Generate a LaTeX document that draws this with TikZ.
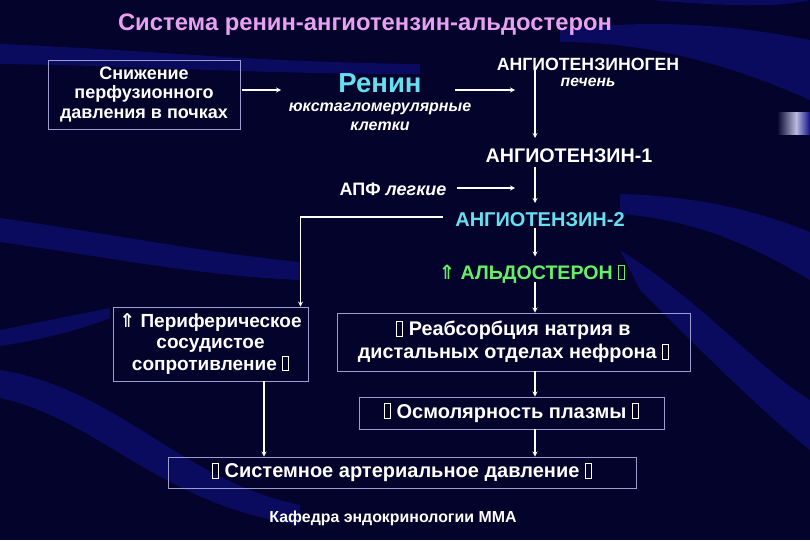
\documentclass[tikz,border=0pt]{standalone}
\usepackage{fontspec}
\usetikzlibrary{calc}
\setmainfont{Liberation Sans}
\newfontfamily\symb{DejaVu Sans}
\definecolor{bgnavy}{HTML}{03032C}
\definecolor{bandblue}{HTML}{10108A}
\definecolor{framecol}{HTML}{9C9CD0}
\definecolor{titlepink}{HTML}{E8A0F0}
\definecolor{cyantext}{HTML}{66E0F0}
\definecolor{greentext}{HTML}{66F066}
\newcommand{\uparr}{{\symb\bfseries ⇑}}
\newcommand{\nogl}{{\fboxsep=0pt\fboxrule=0.05em\fbox{\rule{0pt}{0.7em}\kern0.26em}}}
\newcommand{\fs}[2]{\fontsize{#1}{#2}\selectfont}
\begin{document}
\begin{tikzpicture}[x=1pt,y=-1pt,>=stealth,
  txt/.style={text=white,font=\bfseries,inner sep=0pt},
  frame/.style={draw=framecol,line width=0.9pt,align=center,text=white,font=\bfseries,inner sep=2pt},
  link/.style={->,white,line width=1.2pt},
  band/.style={fill=bandblue,opacity=0.55}]
\useasboundingbox (0,0) rectangle (810,540);
\fill[bgnavy] (0,0) rectangle (810,540);
% waves in the background
\fill[band] (0,44) .. controls (150,50) and (250,62) .. (420,64)
  -- (420,74) .. controls (250,74) and (150,66) .. (0,64) -- cycle;
\fill[band] (560,30) .. controls (640,20) and (720,22) .. (810,40)
  -- (810,100) .. controls (720,60) and (640,42) .. (560,42) -- cycle;
\fill[band] (650,0) .. controls (720,6) and (780,8) .. (810,0) -- cycle;
\fill[band] (0,218) .. controls (100,232) and (200,252) .. (300,262)
  -- (300,280) .. controls (200,276) and (100,256) .. (0,242) -- cycle;
\fill[band] (620,194) .. controls (700,196) and (760,212) .. (810,232)
  -- (810,280) .. controls (760,250) and (700,220) .. (620,214) -- cycle;
\fill[band] (620,250) .. controls (700,300) and (760,370) .. (810,400)
  -- (810,450) .. controls (760,410) and (700,350) .. (640,290) -- cycle;
\fill[band] (0,330) .. controls (40,322) and (80,314) .. (110,308)
  -- (110,318) .. controls (80,330) and (40,340) .. (0,346) -- cycle;
\fill[band] (0,370) .. controls (120,390) and (180,480) .. (300,505)
  -- (300,525) .. controls (160,505) and (100,420) .. (0,398) -- cycle;
% tab at the right
\shade[left color=bgnavy,right color=framecol!70!white] (777,113) rectangle (796,135);
\shade[left color=framecol!70!white,right color=bandblue] (796,113) rectangle (810,135);

% title
\node[txt,text=titlepink,font=\bfseries\fs{23.8}{28}] (title) at (365,25) {Система ренин-ангиотензин-альдостерон};

% top row
\node[frame,minimum width=192pt,minimum height=69pt,font=\bfseries\fs{18}{19.5}] (perf) at (144,94.5)
  {Снижение\\перфузионного\\давления в почках};
\node[txt,text=cyantext,font=\bfseries\fs{27.5}{30}] (renin) at (380,83) {Ренин};
\node[txt,align=center,font=\bfseries\itshape\fs{16}{19}] (jga) at (380,117) {юкстагломерулярные\\клетки};
\node[txt,font=\bfseries\fs{17.7}{20}] (agt) at (588,64) {АНГИОТЕНЗИНОГЕН};
\node[txt,font=\bfseries\itshape\fs{15.7}{18}] (liver) at (588,82) {печень};
\node[txt,font=\bfseries\fs{19.7}{22}] (an1) at (569,156) {АНГИОТЕНЗИН-1};
\node[txt,font=\bfseries\fs{18}{20}] (apf) at (393,189) {АПФ \textit{легкие}};
\node[txt,text=cyantext,font=\bfseries\fs{20}{22}] (an2) at (540,220) {АНГИОТЕНЗИН-2};
\node[txt,text=greentext,font=\bfseries\fs{19.6}{22}] (ald) at (532,274) {\uparr\ АЛЬДОСТЕРОН \nogl};

% boxes below
\node[frame,minimum width=195pt,minimum height=74pt,font=\bfseries\fs{19}{21.5}] (per) at (210.5,344)
  {\uparr\ Периферическое\\сосудистое\\сопротивление \nogl};
\node[frame,minimum width=353pt,minimum height=58pt,font=\bfseries\fs{19.8}{23}] (reab) at (513.5,342)
  {\nogl\ Реабсорбция натрия в\\дистальных отделах нефрона \nogl};
\node[frame,minimum width=305pt,minimum height=32pt,font=\bfseries\fs{20}{22}] (osm) at (511.5,413)
  {\nogl\ Осмолярность плазмы \nogl};
\node[frame,minimum width=468pt,minimum height=31pt,font=\bfseries\fs{20}{22}] (sys) at (402,472.5)
  {\nogl\ Системное артериальное давление \nogl};
\node[txt,font=\bfseries\fs{15.9}{18}] (dept) at (393,518) {Кафедра эндокринологии ММА};

% free ends
\coordinate (axis) at (535,0);
\coordinate (perfend) at (281,90);
\coordinate (reninend) at (515,90);
\coordinate (apfend) at (515,188);
\coordinate (perjoin) at (300.5,0);
\coordinate (perend) at (264,0);

% connectors
\draw[link] ($(perf.east |- perfend)+(2,0)$) -- (perfend);
\draw[link] ($(renin.east |- reninend)+(33,0)$) -- (reninend);
\draw[link] ($(agt.center -| axis)+(0,6)$) -- ($(an1.center -| axis)+(0,-18)$);
\draw[link] ($(an1.center -| axis)+(0,11)$) -- ($(an2.center -| axis)+(0,-17)$);
\draw[link] ($(apf.east)+(10,-1)$) -- (apfend);
\draw[link] ($(an2.center -| axis)+(0,8)$) -- ($(ald.center -| axis)+(0,-17.5)$);
\draw[link] ($(an2.west)+(-12,-3)$) -| (per.north -| perjoin);
\draw[link] ($(ald.center -| axis)+(0,8)$) -- (reab.north -| axis);
\draw[link] (reab.south -| axis) -- (osm.north -| axis);
\draw[link] (osm.south -| axis) -- (sys.north -| axis);
\draw[link] (per.south -| perend) -- (sys.north -| perend);
\end{tikzpicture}
\end{document}
